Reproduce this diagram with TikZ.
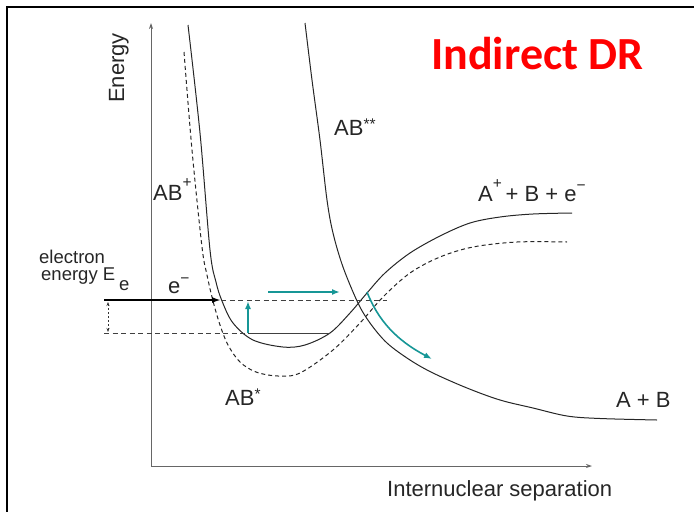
\documentclass[tikz,border=0pt]{standalone}
\usepackage{fontspec}
\setmainfont{Liberation Sans}
\newfontfamily\titlefont{Carlito}
\usetikzlibrary{arrows.meta}
\definecolor{tealarrow}{RGB}{22,150,150}
\definecolor{titlered}{RGB}{255,0,0}
\newcommand\hsup[2]{\raisebox{#1}{\fontsize{15.5}{15.5}\selectfont #2}}
\begin{document}
\begin{tikzpicture}[x=1pt,y=-1pt,
  frameline/.style={line width=2.6pt,black},
  axisline/.style={line width=0.8pt,black!60,-{Stealth[length=6pt,width=4pt]}},
  curve/.style={line width=1pt,black!85},
  dcurve/.style={line width=1pt,black!85,dash pattern=on 4pt off 3pt},
  dline/.style={line width=0.9pt,black!75,dash pattern=on 5pt off 3.5pt},
  tarrow/.style={line width=1.6pt,tealarrow,-{Latex[length=8pt,width=6pt]}},
  lbl/.style={font=\fontsize{22}{22}\selectfont,anchor=base west,inner sep=0pt,text=black!85},
  slbl/.style={font=\fontsize{18.5}{18.5}\selectfont,anchor=base west,inner sep=0pt,text=black!85}]
\useasboundingbox (0,0) rectangle (694,512);
% frame
\coordinate (fTL) at (7,7);
\coordinate (fTR) at (694,7);
\coordinate (fBL) at (7,512);
\draw[frameline] (fTR) -- (fTL) -- (fBL);
% axes
\coordinate (O) at (151,466);
\coordinate (Yend) at (151,23);
\coordinate (Xend) at (592,466);
\draw[axisline] (O) -- (Yend);
\draw[axisline] (O) -- (Xend);
% AB+ (solid)
\draw[curve] plot[smooth,tension=0.55] coordinates {(188,25) (200,133) (210,250) (216,282) (222,301) (233,323) (253,340) (283,347) (305,345) (330,333) (350,313) (367,293) (385,273) (410,253) (440,236) (470,223) (500,217) (533,214) (572,213)};
% AB* (dashed)
\draw[dcurve] plot[smooth,tension=0.55] coordinates {(184,52) (192,150) (202,247) (207,275) (213,301) (220,325) (228,345) (240,362) (256,372) (278,376) (300,373) (333,350) (360,323) (383,297) (410,273) (440,257) (473,247) (517,242) (567,242)};
% AB** (solid)
\draw[curve] plot[smooth,tension=0.55] coordinates {(305,23) (312,80) (320,140) (327,200) (333,233) (343,267) (358,303) (370,323) (387,343) (410,360) (433,373) (467,388) (500,400) (533,408) (567,416) (600,418.5) (657,420)};
% horizontal levels
\coordinate (eStart) at (104,300);
\coordinate (eTip) at (221,300);
\coordinate (upEnd) at (387,300);
\coordinate (loStart) at (104,333);
\coordinate (loMid) at (248,333);
\coordinate (loEnd) at (330,333);
\draw[line width=1.8pt,black,-{Latex[length=9pt,width=6pt]}] (eStart) -- (eTip);
\draw[dline] (eTip) -- (upEnd);
\draw[dline] (loStart) -- (loMid);
\draw[line width=0.9pt,black!75] (loMid) -- (loEnd);
% dashed double arrow
\coordinate (dA) at (108,302);
\coordinate (dB) at (108,332);
\draw[line width=0.7pt,black!80,dash pattern=on 2pt off 2pt,{Stealth[length=4pt,width=3pt]}-{Stealth[length=4pt,width=3pt]}] (dA) -- (dB);
% teal arrows
\coordinate (tvA) at (248,333);
\coordinate (tvB) at (248,301);
\draw[tarrow] (tvA) -- (tvB);
\coordinate (thA) at (268,292);
\coordinate (thB) at (340,292);
\draw[tarrow] (thA) -- (thB);
\coordinate (tcA) at (367,292);
\coordinate (tcB) at (432,359);
\draw[tarrow] (tcA) .. controls (378,320) and (396,340) .. (tcB);
% labels
\node[lbl] (lABss) at (334,135) {AB\hsup{6pt}{**}};
\node[lbl] (lABp) at (153,200) {AB\hsup{12.5pt}{+}};
\node[lbl] (lAp) at (478,201) {A\hsup{12.5pt}{+}\,+ B + e\hsup{11pt}{−}};
\node[lbl] (lAB) at (616,407) {A + B};
\node[lbl] (lABs) at (225,405) {AB\hsup{6pt}{*}};
\node[lbl] (lem) at (168,293) {e\hsup{10pt}{−}};
\node[slbl] (lel1) at (39,263) {electron};
\node[slbl] (lel2) at (41,280) {energy E};
\node[slbl] (lel3) at (119,290) {e};
\node[lbl,rotate=90] (lEn) at (124,103) {Energy};
\node[lbl] (lX) at (387,496) {Internuclear separation};
\node[anchor=base west,inner sep=0pt,text=titlered,font=\titlefont\bfseries\fontsize{46}{46}\selectfont] (title) at (431,69) {Indirect DR};
\end{tikzpicture}
\end{document}
